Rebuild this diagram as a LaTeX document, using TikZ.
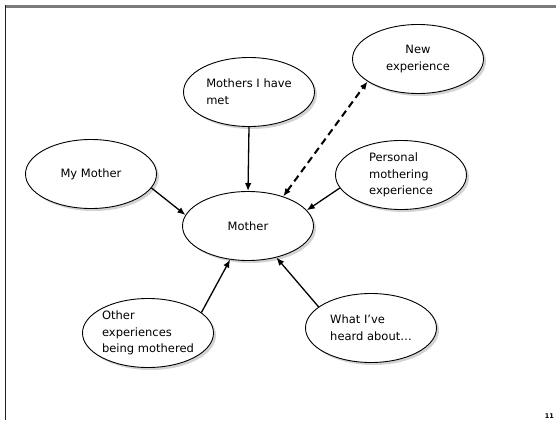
\documentclass[tikz,border=0pt]{standalone}
\usepackage{fontspec}
\setmainfont{DejaVu Sans}
\usetikzlibrary{positioning,arrows.meta,shapes.geometric,shadows}
\definecolor{framegrey}{HTML}{7A7A7A}
\definecolor{framedark}{HTML}{1E1E1E}

\begin{document}
\begin{tikzpicture}[x=1pt,y=-1pt,font=\fontsize{11.5}{16.7}\selectfont,
    bubble/.style={ellipse,draw,fill=white,line width=0.9pt,minimum width=131pt,minimum height=69pt,inner sep=0pt,
      drop shadow={shadow xshift=2.5pt,shadow yshift=-2.5pt,opacity=0.35}},
    feeds/.style={-{Latex[length=8pt,width=6.5pt]},line width=1.3pt},
    guess/.style={{Latex[length=8pt,width=6.5pt]}-{Latex[length=8pt,width=6.5pt]},line width=2pt,dash pattern=on 7pt off 4.5pt}]
    \useasboundingbox (0,0) rectangle (556,420);
    % slide frame
    \draw[framegrey,line width=2.2pt] (5,6.6)--(556,6.6);
    \draw[framedark,line width=1.6pt] (5.6,5.5)--(5.6,420);
    % bubbles
    \node[bubble] (mother) at (248,226) {Mother};
    \node[bubble] (mymother) at (91,174) {My Mother};
    \node[bubble,align=left] (met) at (249,92) {Mothers I have\\met};
    \node[bubble,align=center] (newexp) at (418,59) {New\\experience};
    \node[bubble,align=left] (personal) at (401,175) {Personal\\mothering\\experience};
    \node[bubble,align=left] (other) at (148,333) {Other\\experiences\\being mothered};
    \node[bubble,align=left] (heard) at (371,328) {What I’ve\\heard about…};
    % arrows into the centre
    \draw[feeds] (met.south)--(mother.north);
    \draw[feeds] (mymother.-13)--(mother.170);
    \draw[feeds] (personal.-168)--(mother.15);
    \draw[feeds] (other.21)--(mother.-118);
    \draw[feeds] (heard.158)--(mother.-48);
    \draw[guess] (mother.40)--(newexp.-156);
    \node[font=\bfseries\fontsize{6.5}{7}\selectfont,anchor=south east,inner sep=0pt] (slideno) at (554,419) {11};
  \end{tikzpicture}
\end{document}
